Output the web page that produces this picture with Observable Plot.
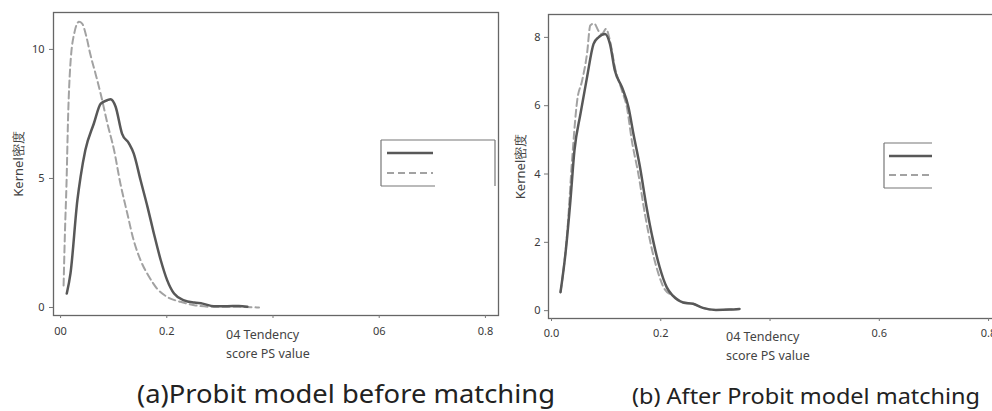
<!DOCTYPE html>
<html>
<head>
<meta charset="utf-8">
<script src="https://cdn.jsdelivr.net/npm/d3@7"></script>
<script src="https://cdn.jsdelivr.net/npm/@observablehq/plot@0.6"></script>
<style>
  html, body { margin: 0; padding: 0; background: #fff; }
  body { width: 992px; height: 411px; overflow: hidden; position: relative; font-family: "Noto Sans", sans-serif; }
  #a, #b, #cap { position: absolute; top: 0; }
  #a { left: 0; width: 500px; }
  #b { left: 500px; width: 510px; }
  #cap { left: 0; }
  #a svg, #b svg { max-width: none !important; overflow: visible; display: block; }
</style>
</head>
<body>
<div id="a"></div>
<div id="b"></div>
<svg id="cap" width="992" height="411"></svg>
<script>
// ---- data ----
const xTicks = [0, 0.2, 0.4, 0.6, 0.8];
const xTickLabelsA = ["00", "0.2", "", "06", "0.8"];
const xTickLabelsB = ["0.0", "0.2", "", "0.6", "0.8"];
const yTicksA = [0, 5, 10];
const yTicksB = [0, 2, 4, 6, 8];
const yLabel = "Kernel密度";
const xLabelLines = "04 Tendency\nscore PS value";
const captions = ["(a)Probit model before matching", "(b) After Probit model matching"];

// (a) before matching - solid
const aSolidX = [0.006, 0.013, 0.026, 0.032, 0.041, 0.057, 0.070, 0.082, 0.0885, 0.098, 0.110, 0.123, 0.132, 0.145, 0.158, 0.170, 0.183, 0.195, 0.208, 0.227, 0.246, 0.262, 0.283, 0.308, 0.330, 0.346];
const aSolidY = [0.54, 1.32, 4.16, 5.06, 6.10, 7.13, 7.90, 8.03, 8.07, 7.78, 6.74, 6.36, 5.97, 4.93, 3.90, 2.87, 1.83, 1.06, 0.54, 0.28, 0.19, 0.15, 0.05, 0.05, 0.06, 0.03];
// (a) before matching - dashed
const aDashX = [0.000, 0.0025, 0.0055, 0.0085, 0.0125, 0.0207, 0.029, 0.035, 0.043, 0.050, 0.060, 0.0697, 0.0825, 0.095, 0.107, 0.120, 0.132, 0.145, 0.161, 0.176, 0.195, 0.220, 0.246, 0.277, 0.321, 0.368];
const aDashY = [0.85, 2.87, 4.80, 7.39, 9.33, 10.68, 11.07, 11.00, 10.49, 9.84, 9.07, 8.29, 7.13, 6.10, 4.80, 3.64, 2.60, 1.83, 1.19, 0.73, 0.41, 0.22, 0.09, 0.03, 0.03, 0.00];
// (b) after matching - solid
const bSolidX = [0.0055, 0.0145, 0.0236, 0.031, 0.042, 0.054, 0.066, 0.075, 0.087, 0.096, 0.105, 0.118, 0.130, 0.139, 0.151, 0.163, 0.175, 0.187, 0.200, 0.211, 0.230, 0.248, 0.266, 0.290, 0.315, 0.333];
const bSolidY = [0.54, 1.66, 3.22, 4.69, 5.76, 6.83, 7.81, 8.00, 8.10, 7.81, 7.03, 6.54, 5.95, 5.17, 4.20, 3.03, 2.05, 1.27, 0.68, 0.44, 0.24, 0.20, 0.08, 0.02, 0.03, 0.05];
// (b) after matching - dashed
const bDashX = [0.0055, 0.0176, 0.027, 0.036, 0.045, 0.054, 0.060, 0.067, 0.075, 0.081, 0.089, 0.096, 0.105, 0.118, 0.127, 0.136, 0.148, 0.160, 0.172, 0.184, 0.196, 0.211, 0.230, 0.248, 0.266, 0.290, 0.315, 0.333];
const bDashY = [0.54, 2.25, 4.49, 6.15, 6.73, 7.52, 8.35, 8.41, 8.19, 8.10, 8.25, 7.90, 7.13, 6.44, 5.95, 4.98, 4.00, 2.83, 1.85, 1.12, 0.63, 0.44, 0.24, 0.20, 0.08, 0.02, 0.03, 0.05];

const solidColor = "#585858";
const dashColor = "#a2a2a2";
const tickColor = "#3a3a3a";

function rows(xs, ys) { return xs.map((x, i) => ({x, y: ys[i]})); }

function panel(opts) {
  const fmt = d => opts.xLabels[xTicks.indexOf(d)] ?? "";
  const chart = Plot.plot({
    width: opts.width, height: 360,
    marginLeft: opts.ml, marginRight: opts.mr, marginTop: opts.mt, marginBottom: opts.mb,
    style: {fontFamily: "'Noto Sans', sans-serif", fontSize: "11px", color: tickColor, background: "transparent", maxWidth: "none", overflow: "visible"},
    x: {domain: opts.xDomain, label: null, ticks: xTicks, tickFormat: fmt},
    y: {domain: opts.yDomain, label: null, ticks: opts.yTicks},
    marks: [
      Plot.frame({stroke: "#666", strokeWidth: 1.3}),
      Plot.axisX({ticks: xTicks, tickFormat: fmt, tickSize: 3, tickPadding: opts.xPad, dx: opts.xdx, label: null, stroke: "#777", fill: tickColor}),
      Plot.axisY({ticks: opts.yTicks, tickSize: 4, tickPadding: opts.yPad, label: null, stroke: "#777", fill: tickColor}),
      Plot.line(rows(opts.dashX, opts.dashY), {x: "x", y: "y", stroke: dashColor, strokeWidth: 2, strokeDasharray: "7,4", curve: "monotone-x"}),
      Plot.line(rows(opts.solidX, opts.solidY), {x: "x", y: "y", stroke: solidColor, strokeWidth: 2.5, curve: "monotone-x"}),
      Plot.text([xLabelLines], {x: () => xTicks[2], frameAnchor: "bottom", textAnchor: "start", lineAnchor: "top", dx: -50, dy: opts.labDy, lineHeight: 1.5, fill: "#444", fontSize: 12.5}),
      Plot.text([yLabel], {frameAnchor: "left", textAnchor: "middle", rotate: -90, dx: opts.ylabDx, fill: "#444", fontSize: 13})
    ]
  });
  return chart;
}

const A = panel({
  width: 500, ml: 53, mr: 2, mt: 12, mb: 45,
  xDomain: [-0.019, 0.819], yDomain: [-0.31, 11.43], yTicks: yTicksA,
  xLabels: xTickLabelsA, xPad: 9, xdx: -3, yPad: 5, labDy: 10, ylabDx: -35,
  solidX: aSolidX, solidY: aSolidY, dashX: aDashX, dashY: aDashY
});
const B = panel({
  width: 510, ml: 48, mr: 5, mt: 14, mb: 42,
  xDomain: [-0.0165, 0.82], yDomain: [-0.23, 8.67], yTicks: yTicksB,
  xLabels: xTickLabelsB, xPad: 8, xdx: -6, yPad: 4, labDy: 9, ylabDx: -28,
  solidX: bSolidX, solidY: bSolidY, dashX: bDashX, dashY: bDashY
});
document.getElementById("a").appendChild(A);
document.getElementById("b").appendChild(B);

// legend boxes (text erased in the original)
function legend(svgEl, L) {
  const g = d3.select(svgEl).append("g").attr("fill", "none");
  const box = "#777";
  L.boxLines.forEach(([x1, y1, x2, y2]) =>
    g.append("line").attr("x1", x1).attr("y1", y1).attr("x2", x2).attr("y2", y2).attr("stroke", box).attr("stroke-width", 1.2));
  g.append("line").attr("x1", L.sx1).attr("x2", L.sx2).attr("y1", L.sy).attr("y2", L.sy).attr("stroke", solidColor).attr("stroke-width", 2.5);
  g.append("line").attr("x1", L.sx1).attr("x2", L.sx2).attr("y1", L.dy).attr("y2", L.dy).attr("stroke", dashColor).attr("stroke-width", 2).attr("stroke-dasharray", "7,4");
}
legend(A, {boxLines: [[381, 140, 495, 140], [381, 140, 381, 186], [495, 140, 495, 186], [381, 186, 435, 186]], sx1: 387, sx2: 433, sy: 153, dy: 173});
legend(B, {boxLines: [[384, 143, 432, 143], [384, 143, 384, 188], [384, 188, 432, 188]], sx1: 389, sx2: 432, sy: 156, dy: 175});

// captions
const cap = d3.select("#cap");
[[137, 403, 418, 25], [632, 404, 348, 22.5]].forEach(([x, y, w, fs], i) => {
  cap.append("text").attr("x", x).attr("y", y)
    .attr("textLength", w).attr("lengthAdjust", "spacingAndGlyphs")
    .attr("font-family", "'Noto Sans', sans-serif").attr("font-size", fs).attr("fill", "#222")
    .text(captions[i]);
});
</script>
</body>
</html>
